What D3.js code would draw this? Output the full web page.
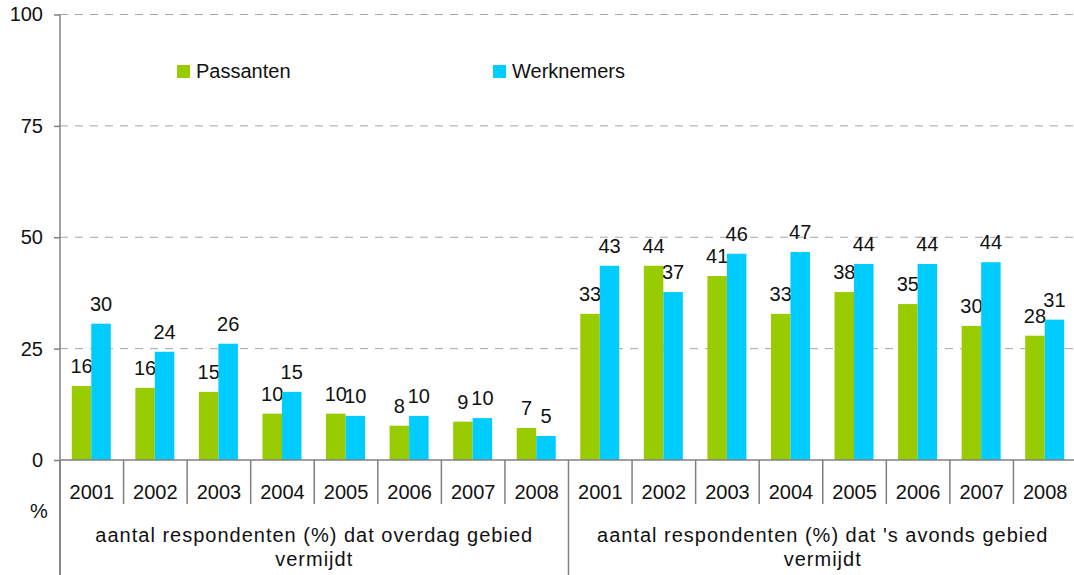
<!DOCTYPE html>
<html>
<head>
<meta charset="utf-8">
<script src="https://cdn.jsdelivr.net/npm/d3@7.9.0/dist/d3.min.js"></script>
<style>
  body { margin: 0; background: #fff; }
  svg { display: block; font-family: "Liberation Sans", Arial, sans-serif; }
  text { fill: #111; }
</style>
</head>
<body>
<svg id="chart" width="1074" height="575"></svg>
<script>
const years = ['2001', '2002', '2003', '2004', '2005', '2006', '2007', '2008'];
const groups = [
  ['aantal respondenten (%) dat overdag gebied', 'vermijdt'],
  ["aantal respondenten (%) dat 's avonds gebied", 'vermijdt']
];
const seriesNames = ['Passanten', 'Werknemers'];
// bar heights, first 8 = overdag, last 8 = 's avonds
const passanten = [16.6, 16.2, 15.3, 10.4, 10.4, 7.7, 8.6, 7.2,
                   32.8, 43.6, 41.3, 32.8, 37.7, 35.0, 30.1, 27.9];
const werknemers = [30.6, 24.3, 26.1, 15.3, 9.9, 9.9, 9.4, 5.4,
                    43.6, 37.7, 46.3, 46.7, 44.0, 44.0, 44.4, 31.5];
// labels printed above the bars
const passantenLabels = [16, 16, 15, 10, 10, 8, 9, 7, 33, 44, 41, 33, 38, 35, 30, 28];
const werknemersLabels = [30, 24, 26, 15, 10, 10, 10, 5, 43, 37, 46, 47, 44, 44, 44, 31];
const yTicks = [0, 25, 50, 75, 100];
const colors = ['#99cc00', '#00ccff'];

const svg = d3.select('#chart');
const plotLeft = 60, plotRight = 1077, plotTop = 14.5, plotBottom = 460;

const cats = d3.range(passanten.length);
const x0 = d3.scaleBand().domain(cats).range([plotLeft, plotRight]).padding(0);
const x1 = d3.scaleBand().domain(seriesNames).range([-20, 19]);
const y = d3.scaleLinear().domain([0, 100]).range([plotBottom, plotTop]);

// gridlines
svg.append('g')
  .selectAll('line')
  .data(yTicks.filter(d => d > 0))
  .join('line')
  .attr('x1', plotLeft).attr('x2', 1074)
  .attr('y1', d => y(d)).attr('y2', d => y(d))
  .attr('stroke', '#a6a6a6')
  .attr('stroke-dasharray', '8,7');

// y axis
const yAxis = svg.append('g')
  .attr('transform', `translate(${plotLeft},0)`)
  .call(d3.axisLeft(y).tickValues(yTicks).tickSize(6).tickPadding(11));
yAxis.select('.domain').remove();
yAxis.selectAll('line').attr('stroke', '#808080').attr('stroke-width', 1.5);
yAxis.selectAll('text').attr('font-size', 20).attr('fill', '#111').attr('font-family', null);
svg.append('line')
  .attr('x1', plotLeft).attr('x2', plotLeft).attr('y1', plotTop).attr('y2', 575)
  .attr('stroke', '#808080').attr('stroke-width', 1.5);

// bars
const seriesVals = [passanten, werknemers];
const seriesLabs = [passantenLabels, werknemersLabels];
seriesNames.forEach((name, s) => {
  const g = svg.append('g');
  g.selectAll('rect')
    .data(cats)
    .join('rect')
    .attr('x', i => x0(i) + x0.bandwidth() / 2 + x1(name))
    .attr('width', x1.bandwidth())
    .attr('y', i => y(seriesVals[s][i]))
    .attr('height', i => y(0) - y(seriesVals[s][i]))
    .attr('fill', colors[s]);
  g.selectAll('text')
    .data(cats)
    .join('text')
    .attr('x', i => x0(i) + x0.bandwidth() / 2 + x1(name) + x1.bandwidth() / 2)
    .attr('y', i => y(seriesVals[s][i]) - 13)
    .attr('text-anchor', 'middle')
    .attr('font-size', 20)
    .text(i => seriesLabs[s][i]);
});

// x axis baseline
svg.append('line')
  .attr('x1', plotLeft).attr('x2', 1074).attr('y1', y(0)).attr('y2', y(0))
  .attr('stroke', '#808080').attr('stroke-width', 1.5);

// category dividers
const bounds = d3.range(cats.length + 1);
svg.append('g')
  .selectAll('line')
  .data(bounds)
  .join('line')
  .attr('x1', i => plotLeft + i * x0.step())
  .attr('x2', i => plotLeft + i * x0.step())
  .attr('y1', y(0))
  .attr('y2', i => (i % years.length === 0) ? 575 : 504)
  .attr('stroke', '#808080').attr('stroke-width', 1.5);

// year labels
svg.append('g')
  .selectAll('text')
  .data(cats)
  .join('text')
  .attr('x', i => x0(i) + x0.bandwidth() / 2)
  .attr('y', 499)
  .attr('text-anchor', 'middle')
  .attr('font-size', 20)
  .text(i => years[i % years.length]);

// group labels
groups.forEach((lines, gi) => {
  const cx = plotLeft + (gi + 0.5) * years.length * x0.step();
  lines.forEach((t, li) => {
    svg.append('text')
      .attr('x', cx)
      .attr('y', 542 + li * 24)
      .attr('text-anchor', 'middle')
      .attr('font-size', 20)
      .attr('letter-spacing', 1)
      .text(t);
  });
});

// % unit label
svg.append('text')
  .attr('x', 39).attr('y', 518)
  .attr('text-anchor', 'middle')
  .attr('font-size', 20)
  .text('%');

// legend
const legendX = [177, 493];
seriesNames.forEach((name, s) => {
  svg.append('rect')
    .attr('x', legendX[s]).attr('y', 65)
    .attr('width', 13).attr('height', 13)
    .attr('fill', colors[s]);
  svg.append('text')
    .attr('x', legendX[s] + 19).attr('y', 78)
    .attr('font-size', 20)
    .text(name);
});
</script>
</body>
</html>
